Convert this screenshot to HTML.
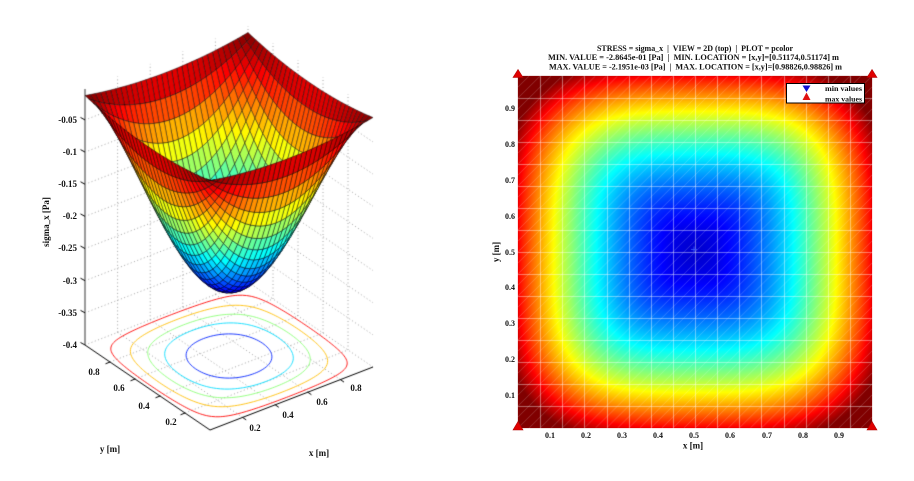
<!DOCTYPE html>
<html><head><meta charset="utf-8">
<style>
html,body{margin:0;padding:0;background:#fff;}
#wrap{position:relative;width:914px;height:481px;overflow:hidden;background:#fff;}
#fb{position:absolute;left:518px;top:76px;width:354px;height:352px;background:radial-gradient(closest-side,#0000d0 0%,#0040ff 35%,#00e0ff 55%,#80ff80 66%,#ffff00 74%,#ff8000 84%,#e00000 96%,#b00000 100%);background-color:#b00000;}
canvas{position:absolute;left:0;top:0;}
svg{position:absolute;left:0;top:0;}
text{font-family:"Liberation Serif",serif;fill:#111;}
.t{font-size:9px;font-weight:bold;}
.s{font-size:8px;font-weight:bold;}
.h{font-size:8.5px;font-weight:bold;white-space:pre;}
</style></head><body>
<div id="wrap">
<div id="fb"></div>
<canvas id="c" width="914" height="481"></canvas>
<svg width="914" height="481" viewBox="0 0 914 481">
  <text class="t" x="77" y="123" text-anchor="end">-0.05</text>
  <text class="t" x="77" y="155" text-anchor="end">-0.1</text>
  <text class="t" x="77" y="187" text-anchor="end">-0.15</text>
  <text class="t" x="77" y="219" text-anchor="end">-0.2</text>
  <text class="t" x="77" y="251" text-anchor="end">-0.25</text>
  <text class="t" x="77" y="284" text-anchor="end">-0.3</text>
  <text class="t" x="77" y="316" text-anchor="end">-0.35</text>
  <text class="t" x="77" y="348" text-anchor="end">-0.4</text>
  <text class="t" x="94" y="375" text-anchor="middle">0.8</text>
  <text class="t" x="119" y="391" text-anchor="middle">0.6</text>
  <text class="t" x="144" y="409" text-anchor="middle">0.4</text>
  <text class="t" x="171" y="425" text-anchor="middle">0.2</text>
  <text class="t" x="255" y="431" text-anchor="middle">0.2</text>
  <text class="t" x="288" y="418" text-anchor="middle">0.4</text>
  <text class="t" x="322" y="405" text-anchor="middle">0.6</text>
  <text class="t" x="356" y="391" text-anchor="middle">0.8</text>
  <text class="t" x="110" y="452" text-anchor="middle">y [m]</text>
  <text class="t" x="319" y="456" text-anchor="middle">x [m]</text>
  <text class="t" transform="translate(49,222) rotate(-90)" text-anchor="middle">sigma_x [Pa]</text>

  <text class="h" x="597" y="51" textLength="196" lengthAdjust="spacingAndGlyphs">STRESS = sigma_x  |  VIEW = 2D (top)  |  PLOT = pcolor</text>
  <text class="h" x="548" y="60" textLength="291" lengthAdjust="spacingAndGlyphs">MIN. VALUE = -2.8645e-01 [Pa]  |  MIN. LOCATION = [x,y]=[0.51174,0.51174] m</text>
  <text class="h" x="549" y="69.5" textLength="293" lengthAdjust="spacingAndGlyphs">MAX. VALUE = -2.1951e-03 [Pa]  |  MAX. LOCATION = [x,y]=[0.98826,0.98826] m</text>

  <text class="s" x="515" y="111" text-anchor="end">0.9</text>
  <text class="s" x="515" y="147" text-anchor="end">0.8</text>
  <text class="s" x="515" y="183" text-anchor="end">0.7</text>
  <text class="s" x="515" y="219" text-anchor="end">0.6</text>
  <text class="s" x="515" y="255" text-anchor="end">0.5</text>
  <text class="s" x="515" y="290" text-anchor="end">0.4</text>
  <text class="s" x="515" y="326" text-anchor="end">0.3</text>
  <text class="s" x="515" y="362" text-anchor="end">0.2</text>
  <text class="s" x="515" y="398" text-anchor="end">0.1</text>
  <text class="s" x="550" y="438" text-anchor="middle">0.1</text>
  <text class="s" x="586" y="438" text-anchor="middle">0.2</text>
  <text class="s" x="622" y="438" text-anchor="middle">0.3</text>
  <text class="s" x="658" y="438" text-anchor="middle">0.4</text>
  <text class="s" x="694" y="438" text-anchor="middle">0.5</text>
  <text class="s" x="730" y="438" text-anchor="middle">0.6</text>
  <text class="s" x="767" y="438" text-anchor="middle">0.7</text>
  <text class="s" x="803" y="438" text-anchor="middle">0.8</text>
  <text class="s" x="839" y="438" text-anchor="middle">0.9</text>
  <text class="t" x="693" y="448.5" text-anchor="middle">x [m]</text>
  <text class="t" transform="translate(499,252) rotate(-90)" text-anchor="middle">y [m]</text>

  <g fill="#e00000" stroke="#b00000" stroke-width="0.6">
    <polygon points="518,69.5 513,77.5 523,77.5"/>
    <polygon points="872,69.5 867,77.5 877,77.5"/>
    <polygon points="518,421.5 513,430 523,430"/>
    <polygon points="872,421.5 867,430 877,430"/>
  </g>

  <rect x="786.5" y="83.5" width="78" height="19.5" fill="#fff" stroke="#000" stroke-width="1"/>
  <polygon points="802.5,85.5 810.5,85.5 806.5,92" fill="#1010d0"/>
  <polygon points="806.5,92.5 802.5,100 810.5,100" fill="#e01010"/>
  <text x="825" y="91" style="font-size:7.5px;font-weight:bold" textLength="37" lengthAdjust="spacingAndGlyphs">min values</text>
  <text x="825" y="101.5" style="font-size:7.5px;font-weight:bold" textLength="37" lengthAdjust="spacingAndGlyphs">max values</text>
</svg>
</div>
<script>
(function(){
var cv=document.getElementById('c');var ctx=cv.getContext('2d');
function cl(v){return v<0?0:(v>1?1:v);}
function jet(t){t=cl(t);return [cl(1.5-Math.abs(4*t-3)),cl(1.5-Math.abs(4*t-2)),cl(1.5-Math.abs(4*t-1))];}
function rgb(c){return 'rgb('+Math.round(c[0]*255)+','+Math.round(c[1]*255)+','+Math.round(c[2]*255)+')';}
/* heatmap field */
function HN(x,y){var u=Math.abs(2*x-1),v=Math.abs(2*y-1);var p=3.5;
  var r=Math.pow(Math.pow(u,p)+Math.pow(v,p),1/p);return cl(0.08+0.80*Math.pow(r,1.7));}

var W=354,H=352,X0=518,Y0=76;
var img=ctx.createImageData(W,H);var d=img.data;
for(var py=0;py<H;py++){for(var px=0;px<W;px++){
  var x=(px+0.5)/W,y=1-(py+0.5)/H;var c=jet(HN(x,y));var k=(py*W+px)*4;
  d[k]=c[0]*255;d[k+1]=c[1]*255;d[k+2]=c[2]*255;d[k+3]=255;}}
ctx.putImageData(img,X0,Y0);
ctx.save();ctx.beginPath();ctx.rect(X0,Y0,W,H);ctx.clip();
ctx.strokeStyle='rgba(255,255,255,0.42)';ctx.lineWidth=1;ctx.beginPath();
for(var k2=1;k2<16;k2++){var gx=Math.round(X0+k2*W/16)+0.5;ctx.moveTo(gx,Y0);ctx.lineTo(gx,Y0+H);
  var gy=Math.round(Y0+k2*H/16)+0.5;ctx.moveTo(X0,gy);ctx.lineTo(X0+W,gy);}
ctx.stroke();
ctx.strokeStyle='rgba(255,255,255,0.28)';ctx.lineWidth=0.7;ctx.beginPath();
for(var k3=-32;k3<=32;k3++){var a=k3/32;ctx.moveTo(X0+a*W,Y0+H);ctx.lineTo(X0+(a+1)*W,Y0);}
ctx.stroke();ctx.restore();
ctx.strokeStyle='rgba(60,90,255,0.9)';ctx.lineWidth=1;ctx.beginPath();
ctx.moveTo(691,249.5);ctx.lineTo(697,249.5);ctx.moveTo(694,246.5);ctx.lineTo(694,252.5);ctx.stroke();

/* ---------- 3D surface ---------- */
var zmin=-0.296,zmax=-0.012,ztop=-0.002;
function M(x,y){var u=Math.abs(2*x-1),v=Math.abs(2*y-1);var u2=u*u,v2=v*v;
  return (1-(1-u2)*(1-v2))*(0.955+0.045*u2*v2);}
function P(x,y,z){return [210+163*x-125*y,430-63*x-85*y-(z+0.4)*643];}
function D(x,y,z){return 80375*x+104809*y-21730*z;}
function L(a,b){var p=P(a[0],a[1],a[2]),q=P(b[0],b[1],b[2]);ctx.moveTo(p[0],p[1]);ctx.lineTo(q[0],q[1]);}

ctx.strokeStyle='#8c8c8c';ctx.lineWidth=0.8;ctx.setLineDash([1,2.5]);ctx.beginPath();
var T=[0.2,0.4,0.6,0.8];
for(var i=0;i<T.length;i++){var t=T[i];
  L([t,0,-0.4],[t,1,-0.4]);L([0,t,-0.4],[1,t,-0.4]);
  L([t,1,-0.4],[t,1,ztop]);L([1,t,-0.4],[1,t,ztop]);}
L([1,1,-0.4],[1,1,ztop]);
for(var zz=-0.4;zz<-0.04;zz+=0.05){L([0,1,zz],[1,1,zz]);L([1,1,zz],[1,0,zz]);}
ctx.stroke();ctx.setLineDash([]);

var lev=[0.16,0.34,0.51,0.69,0.87];var G=72;
for(var li=0;li<lev.length;li++){var Lv=lev[li];
  ctx.strokeStyle=rgb(jet(Lv));ctx.lineWidth=0.9;ctx.beginPath();
  for(var ii=0;ii<G;ii++){for(var jj=0;jj<G;jj++){
    var x0=ii/G,x1=(ii+1)/G,y0=jj/G,y1=(jj+1)/G;
    var va=M(x0,y0)-Lv,vb=M(x1,y0)-Lv,vc=M(x1,y1)-Lv,vd=M(x0,y1)-Lv;var pts=[];
    if((va>0)!=(vb>0))pts.push([x0+(x1-x0)*va/(va-vb),y0]);
    if((vb>0)!=(vc>0))pts.push([x1,y0+(y1-y0)*vb/(vb-vc)]);
    if((vc>0)!=(vd>0))pts.push([x1+(x0-x1)*vc/(vc-vd),y1]);
    if((vd>0)!=(va>0))pts.push([x0,y1+(y0-y1)*vd/(vd-va)]);
    if(pts.length>=2){L([pts[0][0],pts[0][1],-0.4],[pts[1][0],pts[1][1],-0.4]);}
    if(pts.length==4){L([pts[2][0],pts[2][1],-0.4],[pts[3][0],pts[3][1],-0.4]);}
  }}
  ctx.stroke();}

ctx.strokeStyle='#9a9a9a';ctx.lineWidth=2;ctx.beginPath();ctx.moveTo(85,345);ctx.lineTo(85,89);ctx.stroke();
ctx.strokeStyle='#000';ctx.lineWidth=1;ctx.beginPath();
ctx.moveTo(85,345);ctx.lineTo(210,430);ctx.lineTo(373,367);
for(var q=0;q<T.length;q++){var tt=T[q];
  var p1=P(0,tt,-0.4);ctx.moveTo(p1[0],p1[1]);ctx.lineTo(p1[0]-4.5,p1[1]+1.8);
  var p2=P(tt,0,-0.4);ctx.moveTo(p2[0],p2[1]);ctx.lineTo(p2[0]+3.6,p2[1]+2.5);}
for(var zt=-0.4;zt<-0.04;zt+=0.05){var yy=345-(zt+0.4)*643;ctx.moveTo(85,yy);ctx.lineTo(80.5,yy-2.5);}
ctx.stroke();

var N=32,quads=[];
for(var a1=0;a1<N;a1++){for(var b1=0;b1<N;b1++){
  var xa=a1/N,xb=(a1+1)/N,ya=b1/N,yb=(b1+1)/N;
  var cs=[[xa,ya],[xb,ya],[xb,yb],[xa,yb]];var pp=[];var ms=0;
  for(var e=0;e<4;e++){var mm=M(cs[e][0],cs[e][1]);ms+=mm;pp.push(P(cs[e][0],cs[e][1],zmin+(zmax-zmin)*mm));}
  ms/=4;var xc=(xa+xb)/2,yc=(ya+yb)/2;var zc=zmin+(zmax-zmin)*ms;
  quads.push({p:pp,m:ms,d:D(xc,yc,zc)});}}
quads.sort(function(u,v){return v.d-u.d;});
ctx.lineWidth=0.5;ctx.strokeStyle='rgba(0,0,0,0.85)';ctx.lineJoin='round';
for(var qi=0;qi<quads.length;qi++){var Q=quads[qi];
  ctx.beginPath();ctx.moveTo(Q.p[0][0],Q.p[0][1]);for(var r=1;r<4;r++)ctx.lineTo(Q.p[r][0],Q.p[r][1]);ctx.closePath();
  ctx.fillStyle=rgb(jet(0.06+0.94*Q.m));ctx.fill();ctx.stroke();}
})();
</script>
</body></html>
